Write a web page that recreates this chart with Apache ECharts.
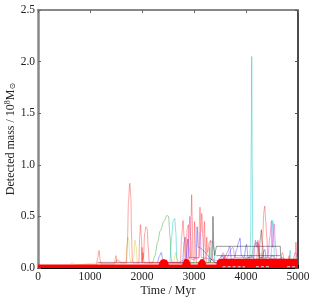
<!DOCTYPE html>
<html><head><meta charset="utf-8">
<script src="https://cdn.jsdelivr.net/npm/echarts@6/dist/echarts.min.js"></script>
<style>html,body{margin:0;padding:0;background:#fff}#c{width:314px;height:300px}</style>
</head><body><div id="c"></div>
<script>
// ---- data (time in Myr, detected mass in 1e8 Msun) ----
const xTicks = [0, 1000, 2000, 3000, 4000, 5000];
const yTicks = [0.0, 0.5, 1.0, 1.5, 2.0, 2.5];

const redA = [[0,0],[1120,0.03],[1150,0.1],[1175,0.17],[1195,0.08],[1215,0.04],[1470,0.04],[1490,0.1],[1500,0.12],[1515,0.05],[1700,0.05],[1720,0.25],[1740,0.65],[1765,0.82],[1785,0.7],[1800,0.3],[1815,0.08],[1830,0.05],[1940,0.05],[1955,0.3],[1970,0.42],[1990,0.3],[2005,0.08],[2030,0.1],[2050,0.33],[2075,0.40],[2100,0.38],[2120,0.2],[2140,0.05],[2740,0.05],[2760,0.3],[2790,0.46],[2810,0.3],[2830,0.08],[2930,0.1],[2945,0.5],[2955,0.71],[2965,0.5],[2980,0.1],[3090,0.1],[3105,0.45],[3115,0.59],[3130,0.35],[3150,0.53],[3170,0.3],[3190,0.08],[3230,0.1],[3245,0.3],[3260,0.15],[3295,0.25],[3320,0.27],[3345,0.1],[3400,0.05],[4300,0.05],[4320,0.3],[4345,0.55],[4360,0.6],[4380,0.45],[4400,0.3],[4420,0.1],[4800,0.05],[4830,0.12],[4850,0.05],[4940,0.08],[4960,0.25],[4980,0.1],[5000,0.05]];
const redB = [[1990,0.05],[2000,0.2],[2010,0.05],[2020,0.15],[2040,0.05],[2840,0.05],[2870,0.38],[2890,0.42],[2910,0.2],[2930,0.05],[3000,0.05],[3010,0.45],[3030,0.2],[3050,0.05],[3180,0.05],[3200,0.45],[3220,0.2],[3240,0.05],[3550,0.05],[3580,0.12],[3610,0.05],[4200,0.05],[4230,0.25],[4260,0.08],[4650,0.05],[4700,0.15],[4740,0.05]];
const greenA = [[1150,0.05],[1500,0.05],[1520,0.08],[1560,0.07],[1600,0.05],[2200,0.05],[2250,0.12],[2300,0.25],[2350,0.36],[2420,0.45],[2480,0.51],[2510,0.5],[2540,0.3],[2560,0.1],[2580,0.05],[3280,0.05],[3300,0.2],[3320,0.05],[3900,0.08],[4100,0.1],[4150,0.2],[4200,0.25],[4230,0.2],[4260,0.1],[4600,0.05],[5000,0.05]];
const cyanA = [[2540,0.05],[2570,0.3],[2600,0.46],[2630,0.48],[2650,0.35],[2670,0.1],[2700,0.05],[3290,0.05],[3310,0.25],[3350,0.26],[3380,0.2],[3400,0.05],[4070,0.05],[4090,0.3],[4100,1.2],[4110,2.05],[4120,1.0],[4130,0.2],[4150,0.05],[4480,0.05],[4500,0.4],[4515,0.46],[4530,0.3],[4550,0.05],[4820,0.05],[4850,0.17],[4870,0.05],[4960,0.05],[4980,0.12],[5000,0.05]];
const blueA = [[2300,0.05],[2340,0.12],[2370,0.15],[2400,0.08],[2450,0.05],[2780,0.05],[2810,0.25],[2830,0.3],[2850,0.1],[2880,0.28],[2900,0.1],[3040,0.1],[3060,0.4],[3080,0.2],[3440,0.05],[3500,0.1],[3540,0.12],[3580,0.08],[3640,0.15],[3690,0.21],[3720,0.08],[3780,0.1],[3820,0.18],[3860,0.25],[3885,0.29],[3910,0.12],[3960,0.1],[4010,0.23],[4040,0.1],[4100,0.12],[4180,0.08],[4300,0.1],[4360,0.18],[4400,0.06],[4500,0.12],[4600,0.08],[4700,0.1],[4800,0.06],[5000,0.05]];
const magentaA = [[1150,0.055],[2700,0.055],[2880,0.1],[2900,0.3],[2920,0.5],[2935,0.3],[2960,0.08],[3100,0.1],[3120,0.35],[3140,0.1],[3500,0.07],[3560,0.15],[3600,0.08],[3750,0.2],[3790,0.1],[4150,0.1],[4180,0.27],[4200,0.2],[4230,0.27],[4260,0.1],[4420,0.1],[4460,0.3],[4490,0.46],[4510,0.2],[4540,0.43],[4570,0.2],[4600,0.08],[4900,0.08],[4950,0.15],[5000,0.08]];
const yellowA = [[600,0.03],[667,0.05],[720,0.03],[1150,0.05],[1690,0.05],[1710,0.2],[1725,0.3],[1745,0.28],[1765,0.1],[1790,0.05],[1840,0.1],[1865,0.27],[1890,0.2],[1910,0.05],[2600,0.05],[2650,0.15],[2680,0.05],[3400,0.05],[4200,0.05],[4300,0.15],[4330,0.05],[5000,0.05]];
const blackA = [[3300,0.05],[3350,0.1],[3365,0.5],[3372,0.51],[3380,0.2],[3400,0.12],[3430,0.21],[4660,0.21],[4665,0.12],[4700,0.05]];
const blackB = [[3430,0.12],[4660,0.12]];
const blackC = [[4250,0.1],[4280,0.3],[4295,0.37],[4310,0.25],[4340,0.1]];
const baseDash = [[3550,0.012],[3980,0.012],[4000,'-'],[4190,0.012],[4460,0.012],[4500,'-'],[4790,0.012],[4975,0.012]];
const redFill = [[0,0.033],[2320,0.033],[2340,0.06],[2370,0.08],[2420,0.088],[2470,0.08],[2500,0.06],[2515,0.033],[2770,0.033],[2790,0.06],[2820,0.085],[2860,0.09],[2900,0.08],[2930,0.05],[2940,0.033],[3070,0.033],[3090,0.06],[3130,0.085],[3170,0.088],[3210,0.07],[3240,0.033],[3430,0.033],[3445,0.07],[3480,0.085],[3520,0.09],[5000,0.09]];

const FONT = 'Liberation Serif';
const chart = echarts.init(document.getElementById('c'), null, {renderer:'canvas'});
function ln(data, color, op, extra) {
  return Object.assign({type:'line', data, symbol:'none', smooth:0.3, smoothMonotone:'x',
    lineStyle:{color, width:0.8, opacity:op}, z:2, silent:true, animation:false}, extra||{});
}
const series = [
  ln(yellowA,'#bfbf00',0.45),
  ln(greenA,'#008000',0.45),
  ln(blueA,'#0000ff',0.45),
  ln(magentaA,'#bf00bf',0.45),
  ln(cyanA,'#00bfbf',0.55),
  ln(blackA,'#000000',0.5,{smooth:false}),
  ln(blackB,'#000000',0.5,{smooth:false}),
  ln(blackC,'#000000',0.45),
  ln(redA,'#ff0000',0.45),
  ln(redB,'#ff0000',0.45),
  {type:'line', data:redFill, symbol:'none', smooth:0.3, smoothMonotone:'x', z:5, silent:true, animation:false,
    lineStyle:{width:0}, areaStyle:{color:'#ff0000', opacity:1, origin:'start'}},
  ln(baseDash,'#d8c8f0',0.9,{z:6, smooth:false, lineStyle:{color:'#d8d0f0', width:1.2, type:[3,2]}})
];
const axisLbl = {fontFamily:FONT, fontSize:11.5, color:'#222'};
chart.setOption({
  animation:false,
  grid:{left:38, right:16, top:10, bottom:32, containLabel:false, outerBoundsMode:'none'},
  xAxis:[
    {type:'value', min:0, max:5000, interval:1000, position:'bottom',
     axisLine:{onZero:false, lineStyle:{color:'#000', width:1.2}}, axisTick:{inside:true, length:3, lineStyle:{color:'#000'}},
     axisLabel:Object.assign({margin:3, formatter:v=>String(v)}, axisLbl), splitLine:{show:false},
     name:'Time / Myr', nameLocation:'middle', nameGap:17, nameMoveOverlap:false, nameTextStyle:{fontFamily:FONT, fontSize:12, color:'#222'}},
    {type:'value', min:0, max:5000, interval:1000, position:'top',
     axisLine:{onZero:false, lineStyle:{color:'#888', width:2}}, axisTick:{inside:true, length:3, lineStyle:{color:'#666'}},
     axisLabel:{show:false}, splitLine:{show:false}}
  ],
  yAxis:[
    {type:'value', min:0, max:2.5, interval:0.5, position:'left',
     axisLine:{show:true, onZero:false, lineStyle:{color:'#888', width:2.5}}, axisTick:{show:true, inside:true, length:3, lineStyle:{color:'#666'}},
     axisLabel:Object.assign({margin:3, formatter:v=>v.toFixed(1)}, axisLbl), splitLine:{show:false},
     name:'Detected mass / 10{sup|8}M{sub|⊙}', nameLocation:'middle', nameGap:21, nameMoveOverlap:false,
     nameTextStyle:{fontFamily:FONT, fontSize:12, color:'#222',
       rich:{sup:{fontFamily:FONT, fontSize:8, color:'#222', verticalAlign:'top', lineHeight:13},
             sub:{fontFamily:'DejaVu Sans', fontSize:8, color:'#222', verticalAlign:'bottom', lineHeight:13}}}},
    {type:'value', min:0, max:2.5, interval:0.5, position:'right',
     axisLine:{show:true, onZero:false, lineStyle:{color:'#111', width:1.5}}, axisTick:{show:true, inside:true, length:3, lineStyle:{color:'#555'}},
     axisLabel:{show:false}, splitLine:{show:false}}
  ],
  series
});
</script></body></html>
